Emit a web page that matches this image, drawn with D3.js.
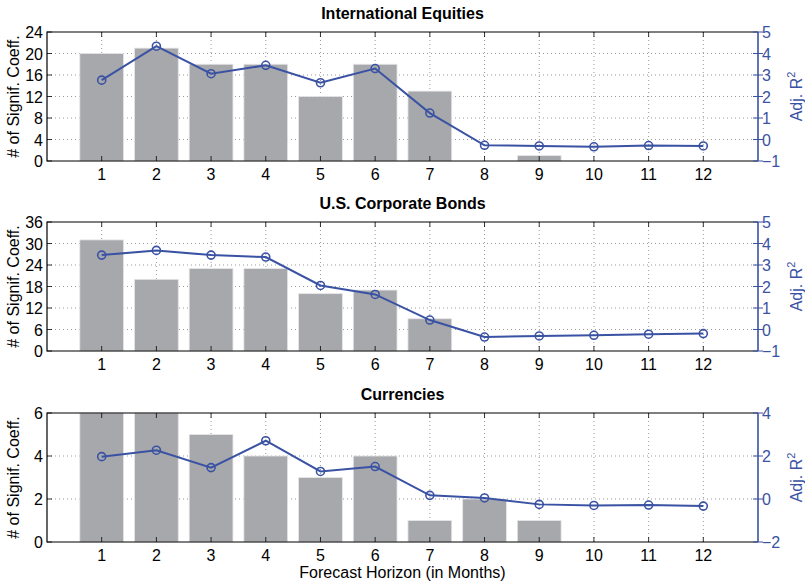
<!DOCTYPE html>
<html>
<head>
<meta charset="utf-8">
<script src="https://cdn.jsdelivr.net/npm/d3@7"></script>
<style>
  body { margin: 0; background: #fff; }
  text { font-family: "Liberation Sans", Arial, sans-serif; }
</style>
</head>
<body>
<div id="chart"></div>
<script>
const W = 805, H = 585
const horizons = [1, 2, 3, 4, 5, 6, 7, 8, 9, 10, 11, 12]

const titles = ['International Equities', 'U.S. Corporate Bonds', 'Currencies']

// number of significant coefficients (bars)
const eqCount = [20, 21, 18, 18, 12, 18, 13, 0, 1, 0, 0, 0]
const bondCount = [31, 20, 23, 23, 16, 17, 9, 0, 0, 0, 0, 0]
const fxCount = [6, 6, 5, 4, 3, 4, 1, 2, 1, 0, 0, 0]

// adjusted R^2 (line)
const eqR2 = [2.76, 4.34, 3.06, 3.45, 2.64, 3.3, 1.23, -0.27, -0.3, -0.34, -0.28, -0.3]
const bondR2 = [3.46, 3.68, 3.46, 3.37, 2.05, 1.63, 0.44, -0.35, -0.3, -0.27, -0.22, -0.19]
const fxR2 = [1.97, 2.27, 1.46, 2.71, 1.28, 1.51, 0.17, 0.05, -0.25, -0.3, -0.28, -0.33]

// axis ticks
const eqLeftTicks = [0, 4, 8, 12, 16, 20, 24]
const bondLeftTicks = [0, 6, 12, 18, 24, 30, 36]
const fxLeftTicks = [0, 2, 4, 6]
const eqRightTicks = [-1, 0, 1, 2, 3, 4, 5]
const bondRightTicks = [-1, 0, 1, 2, 3, 4, 5]
const fxRightTicks = [-2, 0, 2, 4]

const panels = [
  { title: titles[0], count: eqCount, r2: eqR2, lt: eqLeftTicks, rt: eqRightTicks, top: 32 },
  { title: titles[1], count: bondCount, r2: bondR2, lt: bondLeftTicks, rt: bondRightTicks, top: 222 },
  { title: titles[2], count: fxCount, r2: fxR2, lt: fxLeftTicks, rt: fxRightTicks, top: 413 }
]

const left = 47, right = 758, ph = 129
const blue = '#3a52a3', grey = '#a7a8ac'

const svg = d3.select('#chart')
  .append('svg')
  .attr('width', W)
  .attr('height', H)

const x = d3.scaleLinear().domain([0, 13]).range([left, right])
const barW = x(0.8) - x(0)

panels.forEach(p => {
  const top = p.top, bottom = top + ph
  const yL = d3.scaleLinear().domain(d3.extent(p.lt)).range([bottom, top])
  const yR = d3.scaleLinear().domain(d3.extent(p.rt)).range([bottom, top])
  const g = svg.append('g')

  // grid
  g.selectAll('.gx').data(horizons).enter().append('line')
    .attr('x1', d => x(d)).attr('x2', d => x(d))
    .attr('y1', top).attr('y2', bottom)
    .attr('stroke', '#555').attr('stroke-width', 0.6).attr('stroke-dasharray', '1,3')
  g.selectAll('.gy').data(p.lt.slice(1, -1)).enter().append('line')
    .attr('x1', left).attr('x2', right)
    .attr('y1', d => yL(d)).attr('y2', d => yL(d))
    .attr('stroke', '#555').attr('stroke-width', 0.6).attr('stroke-dasharray', '1,3')

  // bars
  g.selectAll('.bar').data(p.count).enter().append('rect')
    .attr('x', (d, i) => x(horizons[i]) - barW / 2)
    .attr('width', barW)
    .attr('y', d => yL(d))
    .attr('height', d => bottom - yL(d))
    .attr('fill', grey)
    .attr('stroke', '#e6e6e8').attr('stroke-width', 0.8)

  // x ticks (inside, top and bottom)
  g.selectAll('.tx').data(horizons).enter().append('path')
    .attr('d', d => `M${x(d)},${bottom}v-5M${x(d)},${top}v5`)
    .attr('stroke', '#000').attr('stroke-width', 0.8)
  g.selectAll('.lx').data(horizons).enter().append('text')
    .attr('x', d => x(d)).attr('y', bottom + 19)
    .attr('text-anchor', 'middle').attr('font-size', 16)
    .text(d => d)

  // left ticks
  g.selectAll('.tl').data(p.lt).enter().append('path')
    .attr('d', d => `M${left},${yL(d)}h5`)
    .attr('stroke', '#000').attr('stroke-width', 0.8)
  g.selectAll('.ll').data(p.lt).enter().append('text')
    .attr('x', left - 4).attr('y', d => yL(d) + 6)
    .attr('text-anchor', 'end').attr('font-size', 16)
    .text(d => d)

  // frame
  g.append('path')
    .attr('d', `M${right},${top}H${left}V${bottom}H${right}`)
    .attr('fill', 'none').attr('stroke', '#000').attr('stroke-width', 1.2)

  // right axis
  g.append('line')
    .attr('x1', right).attr('x2', right).attr('y1', top).attr('y2', bottom)
    .attr('stroke', blue).attr('stroke-width', 1.6)
  g.selectAll('.tr').data(p.rt).enter().append('path')
    .attr('d', d => `M${right - 5},${yR(d)}h10`)
    .attr('stroke', blue).attr('stroke-width', 1)
  g.selectAll('.lr').data(p.rt).enter().append('text')
    .attr('x', right + 4).attr('y', d => yR(d) + 6)
    .attr('font-size', 16).attr('fill', blue)
    .text(d => d < 0 ? '\u2212' + Math.abs(d) : d)

  // line
  const line = d3.line()
    .x((d, i) => x(horizons[i]))
    .y(d => yR(d))
  g.append('path').datum(p.r2)
    .attr('d', line)
    .attr('fill', 'none').attr('stroke', blue).attr('stroke-width', 2)
  g.selectAll('.pt').data(p.r2).enter().append('circle')
    .attr('cx', (d, i) => x(horizons[i])).attr('cy', d => yR(d))
    .attr('r', 4)
    .attr('fill', 'none').attr('stroke', blue).attr('stroke-width', 1.6)

  // titles and labels
  g.append('text')
    .attr('x', (left + right) / 2).attr('y', top - 13)
    .attr('text-anchor', 'middle').attr('font-size', 16).attr('font-weight', 'bold')
    .text(p.title)
  g.append('text')
    .attr('transform', `translate(19,${(top + bottom) / 2}) rotate(-90)`)
    .attr('text-anchor', 'middle').attr('font-size', 16)
    .text('# of Signif. Coeff.')
  const rl = g.append('text')
    .attr('transform', `translate(802,${(top + bottom) / 2}) rotate(-90)`)
    .attr('text-anchor', 'middle').attr('font-size', 16).attr('fill', blue)
  rl.append('tspan').text('Adj. R')
  rl.append('tspan').attr('dy', -7).attr('font-size', 11).text('2')
})

svg.append('text')
  .attr('x', (left + right) / 2).attr('y', 578)
  .attr('text-anchor', 'middle').attr('font-size', 16)
  .text('Forecast Horizon (in Months)')
</script>
</body>
</html>
